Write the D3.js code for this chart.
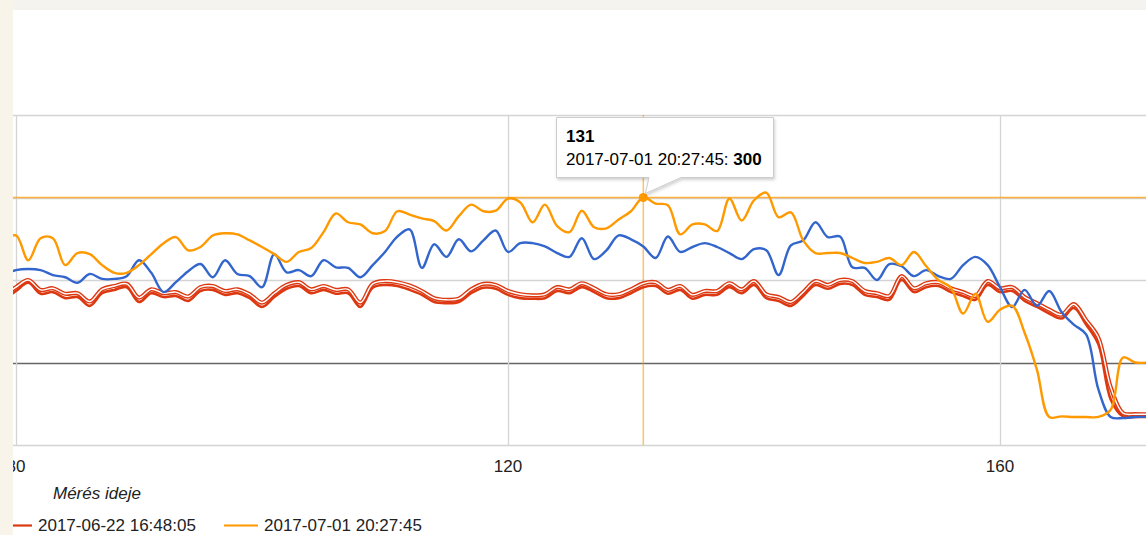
<!DOCTYPE html>
<html>
<head>
<meta charset="utf-8">
<script src="https://cdn.jsdelivr.net/npm/d3@7"></script>
<style>
  html, body { margin: 0; padding: 0; background: #fff; }
  svg { display: block; font-family: "Liberation Sans", Arial, sans-serif; }
</style>
</head>
<body>
<svg id="chart"></svg>
<script>
// x 值（测量序号）
const xValues = d3.range(79, 173);

// 橙色序列 2017-07-01 20:27:45
const orangeValues = [
  222, 231, 186, 226, 226, 177, 199, 197, 177, 163,
  163, 177, 197, 217, 228, 204, 210, 231, 235, 233,
  222, 210, 197, 183, 201, 208, 237, 271, 255, 251,
  235, 239, 275, 269, 262, 257, 240, 266, 287, 275,
  276, 298, 291, 255, 287, 248, 237, 276, 246, 244,
  260, 275, 300, 289, 286, 233, 251, 251, 239, 298,
  258, 295, 309, 264, 273, 222, 199, 199, 199, 190,
  181, 183, 190, 177, 201, 175, 150, 136, 89, 125,
  74, 96, 103, 54, -13, -99, -98, -99, -99, -99,
  -86, 9, 0, 0
];

// 蓝色序列
const blueValues = [
  159, 168, 170, 168, 159, 155, 145, 161, 152, 152,
  157, 186, 163, 128, 146, 166, 179, 155, 186, 161,
  157, 137, 197, 164, 168, 157, 186, 173, 172, 155,
  177, 201, 229, 242, 172, 215, 192, 224, 202, 222,
  240, 201, 217, 217, 211, 199, 192, 226, 188, 204,
  231, 224, 211, 190, 229, 201, 210, 217, 210, 199,
  188, 206, 204, 159, 213, 222, 255, 228, 229, 173,
  172, 150, 179, 175, 157, 168, 157, 152, 177, 192,
  177, 137, 101, 132, 103, 130, 92, 69, 51, -49,
  -99, -101, -99, -99
];

// 红色序列 2017-06-22 16:48:05
const redValues = [
  114, 130, 145, 125, 128, 117, 119, 103, 126, 132,
  137, 110, 126, 119, 121, 112, 130, 132, 123, 126,
  117, 101, 119, 134, 139, 126, 132, 125, 126, 101,
  136, 141, 139, 132, 123, 110, 108, 110, 126, 136,
  134, 123, 117, 116, 117, 130, 126, 137, 128, 117,
  117, 126, 137, 139, 125, 132, 116, 123, 123, 137,
  126, 141, 117, 112, 103, 121, 141, 134, 143, 141,
  123, 119, 114, 150, 128, 137, 139, 128, 121, 114,
  141, 128, 130, 112, 101, 89, 80, 99, 69, 33,
  -67, -98, -99, -99
];

// 红色空心序列（选中状态）
const redHollowValues = [
  121, 137, 150, 132, 135, 125, 126, 111, 133, 139,
  143, 118, 133, 126, 128, 120, 137, 139, 130, 133,
  124, 109, 126, 141, 146, 133, 139, 132, 133, 109,
  143, 148, 146, 140, 130, 117, 114, 116, 133, 143,
  141, 130, 124, 122, 124, 137, 133, 144, 135, 124,
  124, 133, 144, 146, 132, 139, 123, 130, 130, 144,
  133, 148, 124, 119, 110, 128, 148, 141, 150, 148,
  130, 126, 121, 157, 135, 144, 146, 135, 128, 121,
  148, 135, 137, 119, 108, 96, 87, 106, 77, 45,
  -45, -92, -94, -94
];

const xTicks = [80, 120, 160];
const yTicks = [-150, 0, 150, 300, 450];
const legendLabels = ['2017-06-22 16:48:05', '2017-07-01 20:27:45'];
const tooltipX = 131;
const tooltipValue = 300;
const axisTitle = 'Mérés ideje';

const width = 1146, height = 535;
const colors = { red: '#dc3912', orange: '#ff9900', blue: '#3366cc' };

const svg = d3.select('#chart').attr('width', width).attr('height', height);

// 比例尺
const xScale = d3.scaleLinear().domain([80, 160]).range([16, 1000]);
const yScale = d3.scaleLinear().domain([-150, 450]).range([445, 115]);

svg.append('rect').attr('width', width).attr('height', height).attr('fill', '#fff');

// 网格线
svg.append('g')
  .selectAll('line')
  .data(yTicks)
  .join('line')
  .attr('x1', 13).attr('x2', width)
  .attr('y1', d => Math.round(yScale(d)) + 0.5)
  .attr('y2', d => Math.round(yScale(d)) + 0.5)
  .attr('stroke', d => d === 0 ? '#666' : '#d4d4d4')
  .attr('stroke-width', d => d === 0 ? 1.5 : 1.3);

svg.append('g')
  .selectAll('line')
  .data(xTicks)
  .join('line')
  .attr('x1', d => Math.round(xScale(d)) + 0.5)
  .attr('x2', d => Math.round(xScale(d)) + 0.5)
  .attr('y1', yScale(450)).attr('y2', yScale(-150))
  .attr('stroke', '#d4d4d4')
  .attr('stroke-width', 1.3);

// x 轴刻度文字
svg.append('g')
  .selectAll('text')
  .data(xTicks)
  .join('text')
  .attr('x', d => xScale(d))
  .attr('y', 472)
  .attr('text-anchor', 'middle')
  .attr('font-size', 17)
  .attr('fill', '#222')
  .text(d => d);

svg.append('text')
  .attr('x', 53).attr('y', 499)
  .attr('font-size', 17)
  .attr('font-style', 'italic')
  .attr('fill', '#222')
  .text(axisTitle);

// 裁剪区域
svg.append('clipPath').attr('id', 'plot')
  .append('rect').attr('x', 13).attr('y', 100).attr('width', width).attr('height', 350);

// 十字准线
svg.append('line')
  .attr('x1', 13).attr('x2', width)
  .attr('y1', yScale(tooltipValue)).attr('y2', yScale(tooltipValue))
  .attr('stroke', colors.orange).attr('stroke-opacity', 0.75).attr('stroke-width', 1.5);
svg.append('line')
  .attr('x1', xScale(tooltipX)).attr('x2', xScale(tooltipX))
  .attr('y1', yScale(450)).attr('y2', yScale(-150))
  .attr('stroke', colors.orange).attr('stroke-opacity', 0.6).attr('stroke-width', 1.5);

const line = d3.line()
  .x((d, i) => xScale(xValues[i]))
  .y(d => yScale(d))
  .curve(d3.curveCatmullRom.alpha(0.5));

const plot = svg.append('g').attr('clip-path', 'url(#plot)');

plot.append('path').datum(redValues)
  .attr('fill', 'none').attr('stroke', colors.red).attr('stroke-width', 2.6).attr('d', line);

// 空心红线：外层红色 + 内层白色
plot.append('path').datum(redHollowValues)
  .attr('fill', 'none').attr('stroke', colors.red).attr('stroke-width', 4.2).attr('d', line);
plot.append('path').datum(redHollowValues)
  .attr('fill', 'none').attr('stroke', '#fff').attr('stroke-width', 1.4).attr('d', line);

plot.append('path').datum(blueValues)
  .attr('fill', 'none').attr('stroke', colors.blue).attr('stroke-width', 2.4).attr('d', line);

plot.append('path').datum(orangeValues)
  .attr('fill', 'none').attr('stroke', colors.orange).attr('stroke-width', 2.4).attr('d', line);

// 高亮点
svg.append('circle')
  .attr('cx', xScale(tooltipX)).attr('cy', yScale(tooltipValue))
  .attr('r', 4.5).attr('fill', colors.orange);

// 提示框
const defs = svg.append('defs');
const shadow = defs.append('filter').attr('id', 'shadow')
  .attr('x', '-10%').attr('y', '-10%').attr('width', '130%').attr('height', '140%');
shadow.append('feDropShadow').attr('dx', 1).attr('dy', 2).attr('stdDeviation', 1.5)
  .attr('flood-color', '#000').attr('flood-opacity', 0.18);

const tipX = xScale(tooltipX), tipY = yScale(tooltipValue);
const tip = svg.append('g');
tip.append('path')
  .attr('d', `M556.5,117.5 H773.5 V177.5 H681 L${tipX + 2},${tipY - 4} L649,177.5 H556.5 Z`)
  .attr('fill', '#fff').attr('stroke', '#ccc').attr('stroke-width', 1)
  .attr('filter', 'url(#shadow)');
tip.append('text')
  .attr('x', 566).attr('y', 142)
  .attr('font-size', 17).attr('font-weight', 'bold').attr('fill', '#000')
  .text(tooltipX);
const tipLine = tip.append('text')
  .attr('x', 566).attr('y', 165)
  .attr('font-size', 17).attr('fill', '#000');
tipLine.append('tspan').text(`${legendLabels[1]}: `);
tipLine.append('tspan').attr('font-weight', 'bold').text(tooltipValue);

// 图例
const legendPos = [{ x: 0, w: 32, tx: 38 }, { x: 224, w: 34, tx: 264 }];
const legend = svg.append('g')
  .selectAll('g')
  .data(legendLabels)
  .join('g');
legend.append('line')
  .attr('x1', (d, i) => legendPos[i].x)
  .attr('x2', (d, i) => legendPos[i].x + legendPos[i].w)
  .attr('y1', 525.5).attr('y2', 525.5)
  .attr('stroke', (d, i) => i === 0 ? colors.red : colors.orange)
  .attr('stroke-width', 2.2);
legend.append('text')
  .attr('x', (d, i) => legendPos[i].tx)
  .attr('y', 531)
  .attr('font-size', 17)
  .attr('fill', '#222')
  .text(d => d);

// 截图边缘（顶部灰条与左侧米色条）
svg.append('rect').attr('x', 0).attr('y', 0).attr('width', width).attr('height', 10).attr('fill', '#f4f3f0');
svg.append('rect').attr('x', 0).attr('y', 0).attr('width', 13).attr('height', height).attr('fill', '#f8f4ea');
</script>
</body>
</html>
